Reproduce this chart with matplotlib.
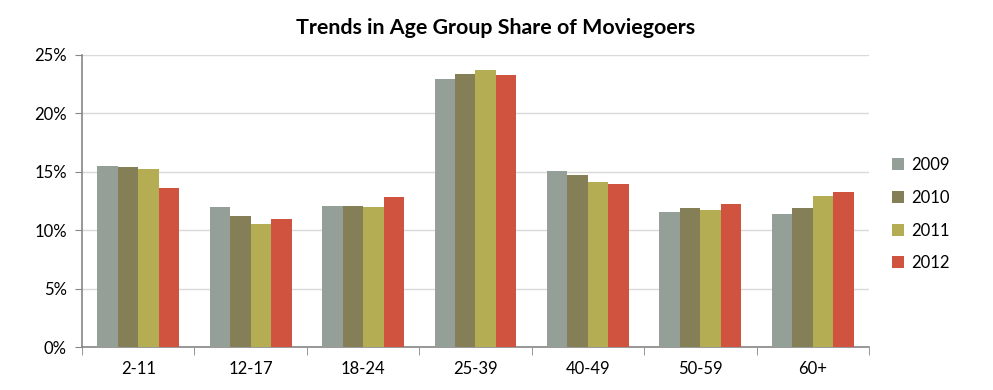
import numpy as np
import matplotlib
matplotlib.use('Agg')
import matplotlib.pyplot as plt
from matplotlib.ticker import FuncFormatter, FixedLocator

plt.rcParams['font.family'] = ['Lato', 'DejaVu Sans']

# Datos (porcentaje)
categorias = ['2-11', '12-17', '18-24', '25-39', '40-49', '50-59', '60+']
anios = ['2009', '2010', '2011', '2012']
v2009 = [15.5, 12.0, 12.05, 22.95, 15.05, 11.55, 11.35]
v2010 = [15.4, 11.25, 12.05, 23.4, 14.7, 11.9, 11.9]
v2011 = [15.2, 10.5, 12.0, 23.75, 14.1, 11.75, 12.95]
v2012 = [13.6, 10.95, 12.85, 23.25, 13.95, 12.25, 13.3]
colores = ['#939F97', '#857F57', '#B4AD53', '#D0533F']

series = [v2009, v2010, v2011, v2012]

fig = plt.figure(figsize=(9.93, 3.9), dpi=100)
ax = fig.add_axes([0.0826, 0.110, 0.7925, 0.749])

x = np.arange(len(categorias))
ancho = 0.727 / 4
for i, (vals, col, lab) in enumerate(zip(series, colores, anios)):
    ax.bar(x - 0.3635 + ancho * (i + 0.5), vals, width=ancho, color=col,
           label=lab, zorder=3, linewidth=0)

ax.set_xlim(-0.5, len(categorias) - 0.5)
ax.set_ylim(0, 25)
ax.set_yticks(np.arange(0, 26, 5))
ax.yaxis.set_major_formatter(FuncFormatter(lambda v, p: f'{v:.0f}%'))
ax.grid(axis='y', color='#D9D9D9', linewidth=1, zorder=0)

ax.set_xticks(x)
ax.set_xticklabels(categorias, fontsize=12)
ax.tick_params(axis='x', which='major', length=0, pad=10)
ax.xaxis.set_minor_locator(FixedLocator(np.arange(-0.5, len(categorias), 1)))
ax.tick_params(axis='x', which='minor', length=6, color='#868686', direction='out')
ax.tick_params(axis='y', length=5, color='#868686', labelsize=12, pad=6)

for s in ['top', 'right']:
    ax.spines[s].set_visible(False)
for s in ['left', 'bottom']:
    ax.spines[s].set_color('#868686')
    ax.spines[s].set_linewidth(1.2)

fig.suptitle('Trends in Age Group Share of Moviegoers', x=0.499, y=0.955,
             fontsize=15.4, fontweight='bold')

leg = ax.legend(loc='center left', bbox_to_anchor=(1.01, 0.455), frameon=False,
                fontsize=12, handlelength=0.75, handleheight=0.75,
                handletextpad=0.4, labelspacing=1.0)

fig.savefig('out.png', dpi=100)
